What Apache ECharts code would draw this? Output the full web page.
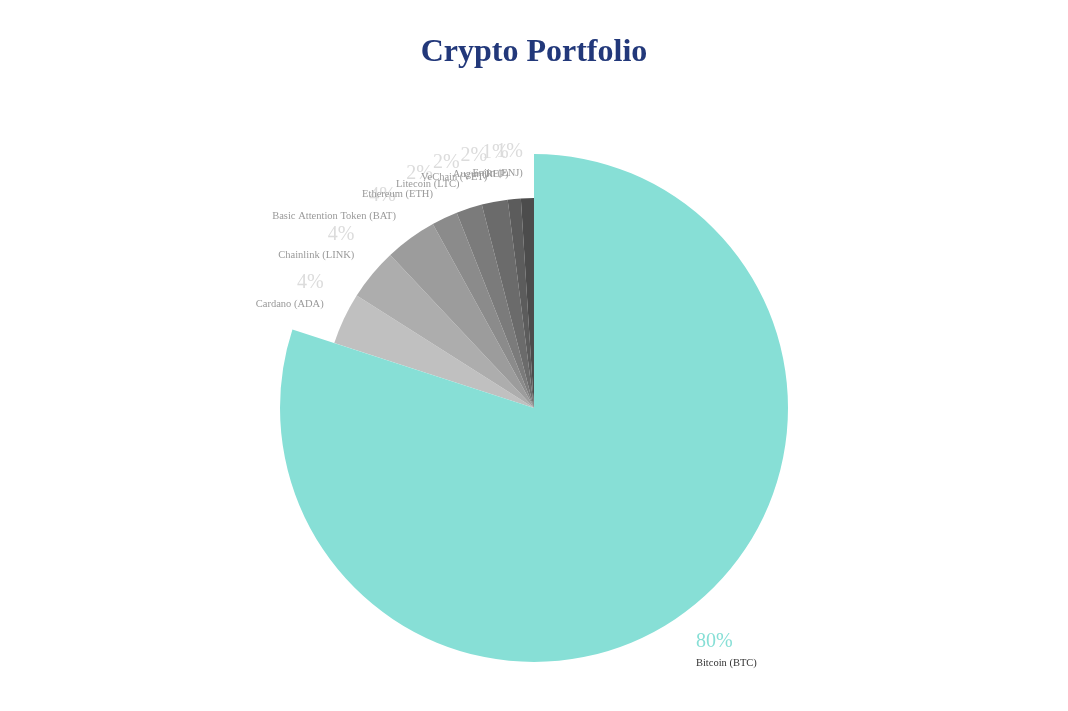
<!DOCTYPE html>
<html lang="en">
<head>
    <meta charset="UTF-8">
    <title>Crypto Portfolio</title>
    <script src="https://cdn.jsdelivr.net/npm/echarts@6/dist/echarts.min.js"></script>
    <style type="text/css">
        html, body { margin: 0; padding: 0; background: #fff; }
        #box { width: 1068px; height: 711px; }
    </style>
</head>
<body>
    <div id="box"></div>
</body>
</html>
<script>
    var coins = ['Bitcoin (BTC)', 'Cardano (ADA)', 'Chainlink (LINK)', 'Basic Attention Token (BAT)',
        'Ethereum (ETH)', 'Litecoin (LTC)', 'VeChain (VET)', 'Augur (REP)', 'Enjin (ENJ)'];
    var shares = [80, 4, 4, 4, 2, 2, 2, 1, 1];
    var colors = ['#87dfd6', '#c0c0c0', '#adadad', '#9c9c9c', '#8b8b8b', '#7b7b7b', '#6b6b6b', '#5c5c5c', '#4c4c4c'];

    var serif = '"Liberation Serif", "Times New Roman", serif';

    // big slice (BTC) sits on its own bigger pie, the rest on the smaller one
    function buildData(big) {
        var out = [];
        for (let i = 0; i < coins.length; i++) {
            var mine = big ? i === 0 : i !== 0;
            out.push({
                name: coins[i],
                value: shares[i],
                itemStyle: { color: mine ? colors[i] : 'transparent' },
                label: { show: mine },
                silent: !mine
            });
        }
        return out;
    }

    function labelStyle(pctColor, nameColor) {
        return {
            show: true,
            position: 'outside',
            distanceToLabelLine: 0,
            formatter: '{p|{d}%}\n{n|{b}}',
            rich: {
                p: { fontFamily: serif, fontSize: 20, lineHeight: 26, color: pctColor },
                n: { fontFamily: serif, fontSize: 10.5, lineHeight: 16, color: nameColor }
            }
        };
    }

    var mychart = echarts.init(document.getElementById('box'));
    mychart.setOption({
        animation: false,
        title: {
            text: 'Crypto Portfolio',
            left: 'center',
            top: 32,
            textStyle: { fontFamily: serif, fontSize: 32, fontWeight: 'bold', color: '#22387a' }
        },
        series: [{
            type: 'pie',
            center: ['50%', 408],
            radius: 210,
            startAngle: 90,
            avoidLabelOverlap: false,
            label: labelStyle('#dcdcdc', '#999999'),
            labelLine: { show: false, length: 18, length2: 0 },
            labelLayout: function () { return { dx: -4, dy: -20 }; },
            emphasis: { disabled: true },
            data: buildData(false)
        }, {
            type: 'pie',
            center: ['50%', 408],
            radius: 254,
            startAngle: 90,
            avoidLabelOverlap: false,
            label: labelStyle('#87dfd6', '#333333'),
            labelLine: { show: false, length: 18, length2: 0 },
            labelLayout: function () { return { dx: 2, dy: 22 }; },
            emphasis: { disabled: true },
            data: buildData(true)
        }]
    });
</script>
